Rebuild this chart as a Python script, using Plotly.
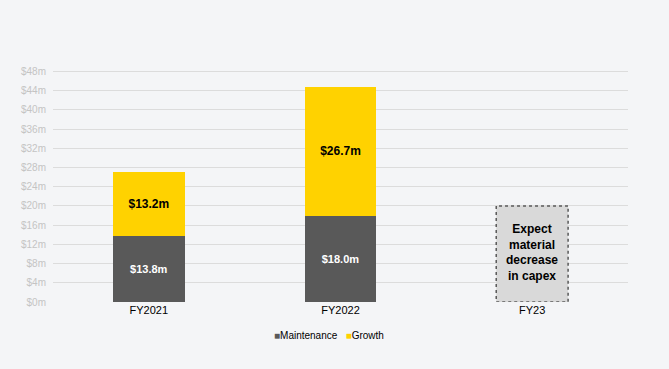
import plotly.graph_objects as go

categories = ["FY2021", "FY2022", "FY23"]
maintenance = [13.8, 18.0, None]
growth = [13.2, 26.7, None]
fy23_placeholder = 20
fy23_text = "Expect<br>material<br>decrease<br>in capex"
y_ticks = list(range(0, 49, 4))
y_tick_labels = [f"${v}m" for v in y_ticks]

BAR_WIDTH = 0.375
FONT = "Liberation Sans, Arial, sans-serif"
C_MAINT = "#595959"
C_GROWTH = "#FFD200"

fig = go.Figure()
fig.add_trace(go.Bar(
    x=categories, y=maintenance, name="Maintenance",
    marker=dict(color=C_MAINT, line=dict(width=0)),
    text=[f"${v:.1f}m" if v is not None else "" for v in maintenance],
    textposition="inside", insidetextanchor="middle",
    textfont=dict(color="white", size=11, family=FONT, weight="bold"),
    width=BAR_WIDTH,
))
fig.add_trace(go.Bar(
    x=categories, y=growth, name="Growth",
    marker=dict(color=C_GROWTH, line=dict(width=0)),
    text=[f"${v:.1f}m" if v is not None else "" for v in growth],
    textposition="inside", insidetextanchor="middle",
    textfont=dict(color="black", size=12, family=FONT, weight="bold"),
    width=BAR_WIDTH,
))

idx = categories.index("FY23")
fig.add_shape(
    type="rect", xref="x", yref="y",
    x0=idx - BAR_WIDTH / 2, x1=idx + BAR_WIDTH / 2,
    y0=0, y1=fy23_placeholder,
    fillcolor="#D9D9D9",
    line=dict(color="#595959", width=1.5, dash="dot"),
    layer="above",
)
fig.add_annotation(
    x="FY23", y=fy23_placeholder * 0.52, xref="x", yref="y",
    text=f"<b>{fy23_text}</b>", showarrow=False,
    font=dict(size=12, color="black", family=FONT),
)

# legend drawn as text with coloured squares, from trace names/colours
legend_text = "&nbsp;&nbsp;&nbsp;".join(
    f"<span style='color:{t.marker.color}'>■</span>{t.name}" for t in fig.data
)
fig.add_annotation(
    x=0.48, y=-0.143, xref="paper", yref="paper", xanchor="center", yanchor="middle",
    text=legend_text, showarrow=False,
    font=dict(size=10, color="black", family=FONT),
)

fig.update_layout(
    barmode="stack",
    width=669, height=369,
    margin=dict(l=53, r=41, t=70, b=67),
    paper_bgcolor="#F4F5F7", plot_bgcolor="#F4F5F7",
    font=dict(family=FONT),
    showlegend=False,
    yaxis=dict(range=[0, 48.3], tickvals=y_ticks, ticktext=y_tick_labels,
               showgrid=True, gridcolor="#DCDCDC", gridwidth=1,
               zeroline=False, showline=False,
               tickfont=dict(size=10, color="#C4C4C4"), ticks="", ticklabelstandoff=6),
    xaxis=dict(showgrid=False, zeroline=False, showline=False,
               tickfont=dict(size=11, color="black"), ticks=""),
    hovermode=False,
)

fig.write_html(
    "out.html",
    config={"displayModeBar": False},
    post_script="document.body.style.margin='0';document.body.style.background='#F4F5F7';",
)
